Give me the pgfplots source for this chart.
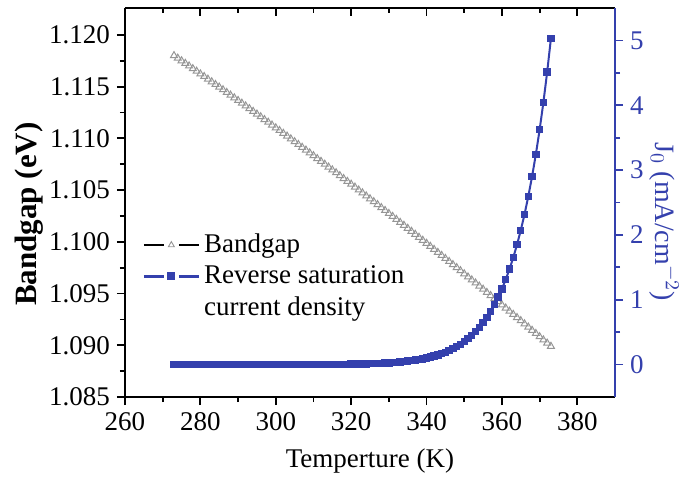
\documentclass[border=0pt]{standalone}
\usepackage{fontspec}
\setmainfont{Liberation Serif}
\usepackage{pgfplots}
\usepackage{pgfplotstable}
\pgfplotsset{compat=1.18}
\definecolor{jblue}{RGB}{52,64,173}
\definecolor{tgray}{RGB}{150,150,150}

\pgfplotstableread{
T Eg
273 1.11800
274 1.11775
275 1.11750
276 1.11725
277 1.11700
278 1.11674
279 1.11649
280 1.11623
281 1.11598
282 1.11572
283 1.11547
284 1.11521
285 1.11496
286 1.11470
287 1.11444
288 1.11418
289 1.11392
290 1.11366
291 1.11340
292 1.11314
293 1.11288
294 1.11261
295 1.11235
296 1.11209
297 1.11182
298 1.11156
299 1.11129
300 1.11102
301 1.11076
302 1.11049
303 1.11022
304 1.10995
305 1.10968
306 1.10941
307 1.10914
308 1.10887
309 1.10860
310 1.10833
311 1.10805
312 1.10778
313 1.10750
314 1.10723
315 1.10695
316 1.10668
317 1.10640
318 1.10612
319 1.10584
320 1.10557
321 1.10529
322 1.10501
323 1.10473
324 1.10444
325 1.10416
326 1.10388
327 1.10360
328 1.10331
329 1.10303
330 1.10274
331 1.10246
332 1.10217
333 1.10188
334 1.10160
335 1.10131
336 1.10102
337 1.10073
338 1.10044
339 1.10015
340 1.09986
341 1.09957
342 1.09927
343 1.09898
344 1.09869
345 1.09839
346 1.09810
347 1.09780
348 1.09751
349 1.09721
350 1.09691
351 1.09661
352 1.09632
353 1.09602
354 1.09572
355 1.09542
356 1.09511
357 1.09481
358 1.09451
359 1.09421
360 1.09390
361 1.09360
362 1.09329
363 1.09299
364 1.09268
365 1.09238
366 1.09207
367 1.09176
368 1.09145
369 1.09114
370 1.09083
371 1.09052
372 1.09021
373 1.08990
}\bandgap

\pgfplotstableread{
T J
273 2.41e-6
274 2.92e-6
275 3.54e-6
276 4.30e-6
277 5.21e-6
278 6.31e-6
279 7.60e-6
280 9.15e-6
281 1.10e-5
282 1.33e-5
283 1.60e-5
284 1.91e-5
285 2.29e-5
286 2.74e-5
287 3.27e-5
288 3.92e-5
289 4.66e-5
290 5.55e-5
291 6.60e-5
292 7.86e-5
293 9.35e-5
294 1.11e-4
295 1.31e-4
296 1.55e-4
297 1.83e-4
298 2.17e-4
299 2.55e-4
300 3.00e-4
301 3.54e-4
302 4.16e-4
303 4.90e-4
304 5.74e-4
305 6.72e-4
306 7.87e-4
307 9.21e-4
308 0.00108
309 0.00126
310 0.00146
311 0.00171
312 0.00199
313 0.00232
314 0.00269
315 0.00312
316 0.00362
317 0.00420
318 0.00487
319 0.00563
320 0.00651
321 0.00753
322 0.00871
323 0.01006
324 0.01160
325 0.01336
326 0.01537
327 0.01766
328 0.02029
329 0.02329
330 0.02671
331 0.03061
332 0.03505
333 0.04010
334 0.04585
335 0.05239
336 0.05981
337 0.06823
338 0.07778
339 0.08861
340 0.10086
341 0.11473
342 0.13042
343 0.14815
344 0.16816
345 0.19075
346 0.21624
347 0.24496
348 0.27729
349 0.31370
350 0.35465
351 0.40069
352 0.45241
353 0.51047
354 0.57562
355 0.64867
356 0.73054
357 0.82223
358 0.92485
359 1.03965
360 1.16798
361 1.3114
362 1.4715
363 1.6502
364 1.8495
365 2.0716
366 2.3191
367 2.5947
368 2.9014
369 3.2425
370 3.6216
371 4.0429
372 4.5107
373 5.03
}\jzero

\pgfplotsset{
  common/.style={
    scale only axis, width=245pt, height=194.5pt,
    xmin=260, xmax=390,
    /pgf/number format/assume math mode=true,
    tick style={line width=0.9pt, black},
    major tick length=4pt, minor tick length=2.5pt,
    axis line style={line width=1.3pt},
    tick label style={font=\fontsize{13.5}{15}\selectfont},
    clip=false,
  }
}

\begin{document}
\begin{tikzpicture}[font=\fontsize{13}{15}\selectfont]
% top frame line with inward ticks
\begin{axis}[common, axis x line*=top, axis y line=none,
  ymin=0, ymax=1, tick align=inside,
  xtick={260,280,300,320,340,360,380}, minor x tick num=1,
  xticklabels={}]
\end{axis}

% left axis: bandgap
\begin{axis}[common, axis x line*=bottom, axis y line*=left,
  tick align=outside,
  ymin=1.085, ymax=1.1226,
  ytick={1.085,1.090,1.095,1.100,1.105,1.110,1.115,1.120},
  minor y tick num=1,
  xtick={260,280,300,320,340,360,380}, minor x tick num=1,
  scaled y ticks=false,
  yticklabel style={/pgf/number format/fixed, /pgf/number format/fixed zerofill, /pgf/number format/precision=3},
  xlabel={Temperture (K)},
  xlabel style={at={(axis description cs:0.5,-0.165)}, anchor=center, font=\fontsize{13.5}{15}\selectfont},
  ylabel={\textbf{Bandgap (eV)}},
  ylabel style={at={(axis description cs:-0.195,0.47)}, anchor=center, font=\fontsize{15.5}{17}\selectfont},
]
\addplot[only marks, mark=triangle, mark size=2pt, mark options={draw=tgray, line width=0.5pt}] table[x=T,y=Eg]{\bandgap};
\end{axis}

% right axis: J0
\begin{axis}[common, axis x line=none, axis y line*=right,
  tick align=outside,
  ymin=-0.5, ymax=5.5,
  ytick={0,1,2,3,4,5}, minor y tick num=1,
  y axis line style={draw=jblue, line width=1.3pt},
  y tick style={draw=jblue},
  y tick label style={text=jblue},
  ylabel={J$_0$ (mA/cm$^{-2}$)},
  ylabel style={text=jblue, rotate=180, at={(axis description cs:1.1,0.45)}, anchor=center, font=\fontsize{14}{16}\selectfont},
  legend style={at={(axis description cs:0.035,0.43)}, anchor=north west, draw=none, fill=none,
    inner sep=0pt, row sep=1pt, font=\fontsize{13.5}{15}\selectfont},
  legend cell align=left,
]
\addlegendimage{legend image code/.code={
  \draw[black, line width=1.3pt] (0pt,0pt)--(10pt,0pt);
  \draw[black, line width=1.3pt] (17.5pt,0pt)--(27.5pt,0pt);
  \path[draw=tgray, line width=0.45pt] plot[mark=triangle, mark size=1.7pt, only marks] coordinates {(13.75pt,0pt)};
}}
\addlegendentry{Bandgap}
\addplot[color=jblue, line width=1pt, mark=square*, mark size=1.35pt, mark options={fill=jblue},
  legend image code/.code={
  \draw[jblue, line width=1.3pt] (0pt,0pt)--(10pt,0pt);
  \draw[jblue, line width=1.3pt] (17.5pt,0pt)--(27.5pt,0pt);
  \path[fill=jblue, draw=jblue] plot[mark=square*, mark size=1.5pt, only marks] coordinates {(13.75pt,0pt)};
}] table[x=T,y=J]{\jzero};
\addlegendentry{Reverse saturation}
\addlegendimage{empty legend}
\addlegendentry{current density}
\end{axis}
\pgfresetboundingbox
\path (-62.5pt,-40.5pt) rectangle (280.5pt,198.5pt);
\end{tikzpicture}
\end{document}
